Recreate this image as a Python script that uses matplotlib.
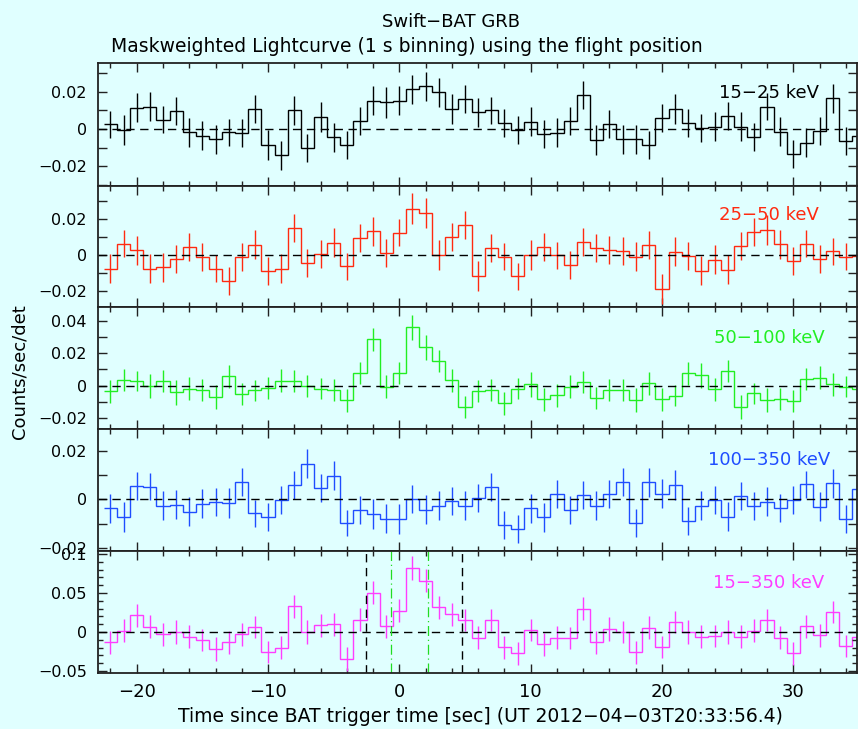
import matplotlib
matplotlib.use('Agg')
import matplotlib.pyplot as plt
from matplotlib.ticker import MultipleLocator, FuncFormatter
import numpy as np

plt.rcParams['font.family'] = 'DejaVu Sans'

# ── data: 1 s bins centred on integer seconds ────────────────────────────────
t = np.arange(-22, 36)

rate_15_25 = [0.0025, -0.0005, 0.0115, 0.0120, 0.0050, 0.0097, -0.0018, -0.0036, -0.0056, -0.0018,
              -0.0023, 0.0108, -0.0086, -0.0140, 0.0102, -0.0104, 0.0066, -0.0045, -0.0086, 0.0043,
              0.0152, 0.0143, 0.0152, 0.0213, 0.0230, 0.0197, 0.0110, 0.0161, 0.0090, 0.0102,
              0.0034, -0.0005, 0.0040, -0.0027, -0.0020, 0.0043, 0.0183, -0.0060, 0.0025, -0.0056,
              -0.0056, -0.0086, 0.0060, 0.0108, 0.0034, 0.0007, 0.0013, 0.0072, 0.0013, -0.0041,
              0.0120, -0.0014, -0.0134, -0.0073, -0.0009, 0.0165, -0.0065, -0.0038]
err_15_25 = [0.0074, 0.0081, 0.0078, 0.0078, 0.0072, 0.0073, 0.0078, 0.0078, 0.0076, 0.0074,
             0.0075, 0.0074, 0.0080, 0.0078, 0.0078, 0.0076, 0.0081, 0.0076, 0.0073, 0.0076,
             0.0079, 0.0081, 0.0079, 0.0079, 0.0079, 0.0076, 0.0081, 0.0076, 0.0077, 0.0073,
             0.0076, 0.0075, 0.0079, 0.0076, 0.0078, 0.0076, 0.0077, 0.0079, 0.0076, 0.0076,
             0.0076, 0.0078, 0.0076, 0.0079, 0.0076, 0.0076, 0.0079, 0.0076, 0.0079, 0.0075,
             0.0074, 0.0077, 0.0076, 0.0076, 0.0076, 0.0077, 0.0076, 0.0077]

rate_25_50 = [-0.0076, 0.0063, 0.0026, -0.0076, -0.0069, -0.0024, 0.0044, -0.0011, -0.0076, -0.0144,
              -0.0011, 0.0056, -0.0089, -0.0076, 0.0150, -0.0044, 0.0007, 0.0069, -0.0063, 0.0094,
              0.0131, 0.0011, 0.0124, 0.0257, 0.0235, 0.0000, 0.0100, 0.0169, -0.0118, 0.0039,
              -0.0009, -0.0119, 0.0000, 0.0044, -0.0002, -0.0057, 0.0074, 0.0039, 0.0026, 0.0020,
              -0.0009, 0.0056, -0.0189, 0.0019, -0.0004, -0.0087, -0.0026, -0.0081, 0.0050, 0.0130,
              0.0139, 0.0059, -0.0033, 0.0063, -0.0022, 0.0020, -0.0009, -0.0004]
err_25_50 = [0.0081, 0.0077, 0.0080, 0.0081, 0.0079, 0.0078, 0.0077, 0.0079, 0.0076, 0.0079,
             0.0077, 0.0081, 0.0077, 0.0079, 0.0078, 0.0076, 0.0077, 0.0081, 0.0076, 0.0079,
             0.0081, 0.0078, 0.0077, 0.0086, 0.0084, 0.0084, 0.0079, 0.0078, 0.0083, 0.0078,
             0.0077, 0.0077, 0.0081, 0.0079, 0.0076, 0.0077, 0.0078, 0.0078, 0.0077, 0.0078,
             0.0080, 0.0079, 0.0081, 0.0078, 0.0077, 0.0079, 0.0079, 0.0081, 0.0079, 0.0078,
             0.0081, 0.0079, 0.0079, 0.0077, 0.0079, 0.0076, 0.0077, 0.0078]

rate_50_100 = [-0.0033, 0.0035, 0.0029, -0.0004, 0.0029, -0.0041, -0.0018, -0.0027, -0.0070, 0.0057,
               -0.0051, -0.0027, -0.0016, 0.0031, 0.0031, -0.0002, -0.0018, -0.0027, -0.0090, 0.0078,
               0.0284, -0.0006, 0.0078, 0.0358, 0.0235, 0.0153, 0.0033, -0.0131, -0.0031, -0.0025,
               -0.0108, -0.0018, 0.0010, -0.0084, -0.0059, -0.0006, 0.0022, -0.0074, -0.0027, -0.0027,
               -0.0088, 0.0014, -0.0082, -0.0061, 0.0076, 0.0063, -0.0022, 0.0092, -0.0129, -0.0047,
               -0.0088, -0.0080, -0.0092, 0.0043, 0.0049, 0.0008, -0.0006, -0.0020]
err_50_100 = [0.0070, 0.0065, 0.0064, 0.0074, 0.0067, 0.0074, 0.0070, 0.0069, 0.0072, 0.0072,
              0.0069, 0.0065, 0.0067, 0.0072, 0.0067, 0.0070, 0.0066, 0.0066, 0.0072, 0.0069,
              0.0069, 0.0069, 0.0066, 0.0075, 0.0075, 0.0069, 0.0069, 0.0066, 0.0069, 0.0069,
              0.0069, 0.0064, 0.0077, 0.0069, 0.0072, 0.0072, 0.0066, 0.0069, 0.0069, 0.0069,
              0.0072, 0.0069, 0.0070, 0.0066, 0.0069, 0.0074, 0.0069, 0.0066, 0.0072, 0.0065,
              0.0072, 0.0067, 0.0069, 0.0066, 0.0070, 0.0069, 0.0066, 0.0068]

rate_100_350 = [-0.0038, -0.0074, 0.0056, 0.0052, -0.0026, -0.0023, -0.0051, -0.0019, -0.0010, -0.0014,
                0.0070, -0.0058, -0.0074, -0.0004, 0.0059, 0.0147, 0.0048, 0.0097, -0.0099, -0.0043,
                -0.0059, -0.0080, -0.0080, 0.0000, -0.0043, -0.0027, -0.0007, -0.0027, 0.0005, 0.0052,
                -0.0106, -0.0121, -0.0038, -0.0074, 0.0022, -0.0045, 0.0018, -0.0026, 0.0022, 0.0070,
                -0.0099, 0.0070, 0.0023, 0.0059, -0.0088, -0.0026, -0.0003, -0.0071, 0.0014, -0.0027,
                -0.0010, -0.0037, -0.0003, 0.0062, -0.0030, 0.0066, -0.0081, 0.0043]
err_100_350 = [0.0060, 0.0062, 0.0058, 0.0057, 0.0059, 0.0060, 0.0060, 0.0060, 0.0058, 0.0062,
               0.0058, 0.0057, 0.0058, 0.0057, 0.0058, 0.0060, 0.0058, 0.0060, 0.0054, 0.0058,
               0.0062, 0.0060, 0.0062, 0.0058, 0.0060, 0.0060, 0.0058, 0.0059, 0.0058, 0.0058,
               0.0058, 0.0058, 0.0058, 0.0060, 0.0058, 0.0058, 0.0058, 0.0060, 0.0058, 0.0058,
               0.0058, 0.0060, 0.0059, 0.0060, 0.0058, 0.0058, 0.0058, 0.0059, 0.0058, 0.0058,
               0.0060, 0.0058, 0.0059, 0.0056, 0.0059, 0.0059, 0.0058, 0.0059]

rate_15_350 = [-0.0132, 0.0017, 0.0214, 0.0068, -0.0030, 0.0000, -0.0060, -0.0103, -0.0218, -0.0132,
               -0.0030, 0.0068, -0.0260, -0.0200, 0.0329, 0.0000, 0.0085, 0.0098, -0.0346, 0.0158,
               0.0504, 0.0073, 0.0274, 0.0820, 0.0658, 0.0316, 0.0226, 0.0158, -0.0073, 0.0158,
               -0.0197, -0.0274, 0.0030, -0.0158, -0.0073, -0.0073, 0.0299, -0.0132, 0.0038, 0.0000,
               -0.0260, 0.0056, -0.0192, 0.0132, 0.0000, -0.0060, -0.0047, 0.0000, -0.0060, 0.0017,
               0.0154, -0.0073, -0.0274, 0.0073, -0.0043, 0.0256, -0.0175, -0.0068]
err_15_350 = [0.0150, 0.0150, 0.0150, 0.0150, 0.0150, 0.0150, 0.0150, 0.0143, 0.0150, 0.0150,
              0.0150, 0.0143, 0.0143, 0.0150, 0.0147, 0.0154, 0.0150, 0.0150, 0.0154, 0.0150,
              0.0150, 0.0150, 0.0145, 0.0152, 0.0150, 0.0145, 0.0150, 0.0143, 0.0150, 0.0143,
              0.0150, 0.0150, 0.0143, 0.0143, 0.0150, 0.0143, 0.0147, 0.0150, 0.0150, 0.0145,
              0.0150, 0.0145, 0.0143, 0.0143, 0.0150, 0.0150, 0.0143, 0.0150, 0.0150, 0.0150,
              0.0143, 0.0150, 0.0150, 0.0150, 0.0145, 0.0143, 0.0143, 0.0145]

bands = ['15−25 keV', '25−50 keV', '50−100 keV', '100−350 keV', '15−350 keV']
rates = [rate_15_25, rate_25_50, rate_50_100, rate_100_350, rate_15_350]
errors = [err_15_25, err_25_50, err_50_100, err_100_350, err_15_350]

t90_edges = [-2.55, 4.75]
t50_edges = [-0.6, 2.15]

# ── styling / layout ─────────────────────────────────────────────────────────
colors = ['#000000', '#ff2a10', '#22ee22', '#1f4dff', '#ff3dff']
bg = '#e0ffff'
ylims = [(-0.0304, 0.0357), (-0.0291, 0.0386), (-0.0267, 0.0481),
         (-0.0213, 0.0288), (-0.0529, 0.1038)]
# panel top/bottom in pixels
panel_px = [(62.7, 185.5), (185.5, 307.3), (307.3, 429.3), (429.3, 551.0), (551.0, 673.3)]
label_y = [92.5, 215, 338, 460, 583]
W, H = 858, 729
left_px, right_px = 98, 857

fig = plt.figure(figsize=(W / 100, H / 100), dpi=100)
fig.patch.set_facecolor(bg)


def ylab(v, pos, step):
    n = int(round(v / 0.01))
    if step == 0.02 and n % 2 != 0:
        return ''
    if n == 0:
        return '0'
    return f'{v:g}'.replace('-', '\u2212')


edges = np.append(t - 0.5, t[-1] + 0.5)
axes = []
for i in range(5):
    top, bot = panel_px[i]
    ax = fig.add_axes([left_px / W, 1 - bot / H, (right_px - left_px) / W, (bot - top) / H])
    ax.set_facecolor(bg)
    c = colors[i]
    ax.stairs(rates[i], edges, baseline=None, color=c, lw=1.0)
    ax.errorbar(t, rates[i], yerr=errors[i], fmt='none', ecolor=c, elinewidth=1.0, capsize=0)
    ax.axhline(0, color='k', lw=1.0, ls=(0, (6, 4)))
    ax.set_xlim(-22.95, 34.85)
    ax.set_ylim(*ylims[i])

    ax.xaxis.set_major_locator(MultipleLocator(10))
    ax.xaxis.set_minor_locator(MultipleLocator(2))
    if i < 4:
        ax.yaxis.set_major_locator(MultipleLocator(0.01))
        ax.yaxis.set_major_formatter(FuncFormatter(lambda v, p: ylab(v, p, 0.02)))
    else:
        ax.yaxis.set_major_locator(MultipleLocator(0.05))
        ax.yaxis.set_minor_locator(MultipleLocator(0.01))
        ax.yaxis.set_major_formatter(FuncFormatter(lambda v, p: ylab(v, p, 0.05)))
    ax.tick_params(which='both', direction='in', top=True, right=True, width=1.0, color='#222')
    ax.tick_params(which='major', length=6.5)
    ax.tick_params(which='minor', length=3.3)
    ax.tick_params(axis='y', labelsize=11.5, pad=8)
    ax.tick_params(axis='x', labelsize=13, pad=7)
    if i < 4:
        ax.tick_params(axis='x', labelbottom=False)
    for s in ax.spines.values():
        s.set_linewidth(1.3)
        s.set_color('#222')

    fig.text(769 / W, 1 - label_y[i] / H, bands[i], color=c, fontsize=13,
             ha='center', va='center')
    axes.append(ax)

ax5 = axes[-1]
for x in t90_edges:
    ax5.axvline(x, color='k', lw=1.0, ls=(0, (6, 4)))
for x in t50_edges:
    ax5.axvline(x, color='#22dd22', lw=0.9, ls=(0, (8, 3, 1, 3)))

fig.text(451 / W, 1 - 22 / H, 'Swift\u2212BAT GRB', ha='center', va='center', fontsize=13)
fig.text(407 / W, 1 - 46 / H,
         'Maskweighted Lightcurve (1 s binning) using the flight position',
         ha='center', va='center', fontsize=13.5)
fig.text(20 / W, 1 - 372 / H, 'Counts/sec/det', rotation=90, ha='center', va='center', fontsize=13)
fig.text(480 / W, 1 - 716 / H,
         'Time since BAT trigger time [sec] (UT 2012\u221204\u221203T20:33:56.4)',
         ha='center', va='center', fontsize=13.5)

plt.savefig('out.png', dpi=100, facecolor=bg)
plt.close()
